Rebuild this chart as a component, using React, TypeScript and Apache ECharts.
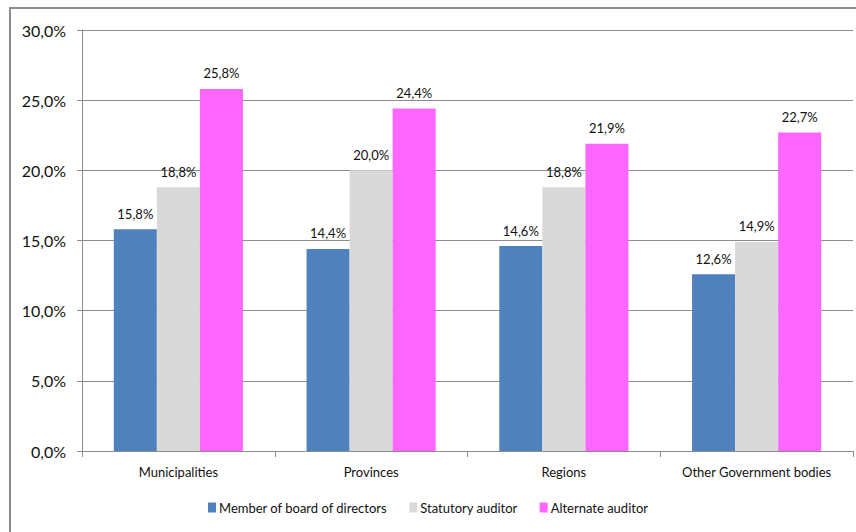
import React, { useEffect, useRef } from "react";
import * as echarts from "echarts";

const categories = ["Municipalities", "Provinces", "Regions", "Other Government bodies"];
const seriesNames = ["Member of board of directors", "Statutory auditor", "Alternate auditor"];
const boardValues = [15.8, 14.4, 14.6, 12.6];
const statutoryValues = [18.8, 20.0, 18.8, 14.9];
const alternateValues = [25.8, 24.4, 21.9, 22.7];
const colors = ["#4F81BD", "#D9D9D9", "#FF66FF"];

const fmt = (v: number) => v.toFixed(1).replace(".", ",") + "%";
const FONT = "Lato, 'Open Sans', sans-serif";

export default function App() {
  const ref = useRef<HTMLDivElement>(null);
  useEffect(() => {
    if (!ref.current) return;
    const chart = echarts.init(ref.current, null, { renderer: "svg" });
    const data = [boardValues, statutoryValues, alternateValues];
    chart.setOption({
      animation: false,
      backgroundColor: "#fff",
      textStyle: { fontFamily: FONT },
      graphic: [
        {
          type: "rect",
          shape: { x: 10, y: 8, width: 900, height: 600 },
          style: { fill: "none", stroke: "#8c8c8c", lineWidth: 2 },
          silent: true,
        },
      ],
      grid: { left: 82, top: 30, right: 3, bottom: 81, containLabel: false },
      legend: {
        bottom: 13,
        left: "center",
        itemWidth: 8,
        itemHeight: 10,
        itemGap: 22,
        icon: "rect",
        textStyle: { fontFamily: FONT, fontSize: 13, color: "#111", padding: [0, 0, 0, -2] },
        data: seriesNames,
      },
      xAxis: {
        type: "category",
        data: categories,
        axisLine: { lineStyle: { color: "#8c8c8c", width: 1 } },
        axisTick: { show: true, interval: 0, length: 6, lineStyle: { color: "#8c8c8c" } },
        axisLabel: { interval: 0, fontFamily: FONT, fontSize: 13, color: "#111", margin: 14 },
      },
      yAxis: {
        type: "value",
        min: 0,
        max: 30,
        interval: 5,
        axisLine: { show: true, lineStyle: { color: "#8c8c8c" } },
        axisTick: { show: true, length: 5, lineStyle: { color: "#8c8c8c" } },
        splitLine: { lineStyle: { color: "#8c8c8c", width: 1 } },
        axisLabel: { fontFamily: FONT, fontSize: 16, color: "#111", margin: 16, formatter: (v: number) => fmt(v) },
      },
      series: seriesNames.map((name, i) => ({
        name,
        type: "bar",
        data: data[i],
        barGap: "0%",
        barCategoryGap: "33%",
        itemStyle: { color: colors[i] },
        label: {
          show: true,
          position: "top",
          distance: 9,
          fontFamily: FONT,
          fontSize: 13,
          color: "#111",
          formatter: (p: any) => fmt(p.value),
        },
      })),
    });
    return () => chart.dispose();
  }, []);
  return (
    <div
      ref={ref}
      style={{ position: "absolute", left: 0, top: 0, width: 856, height: 532 }}
    />
  );
}
